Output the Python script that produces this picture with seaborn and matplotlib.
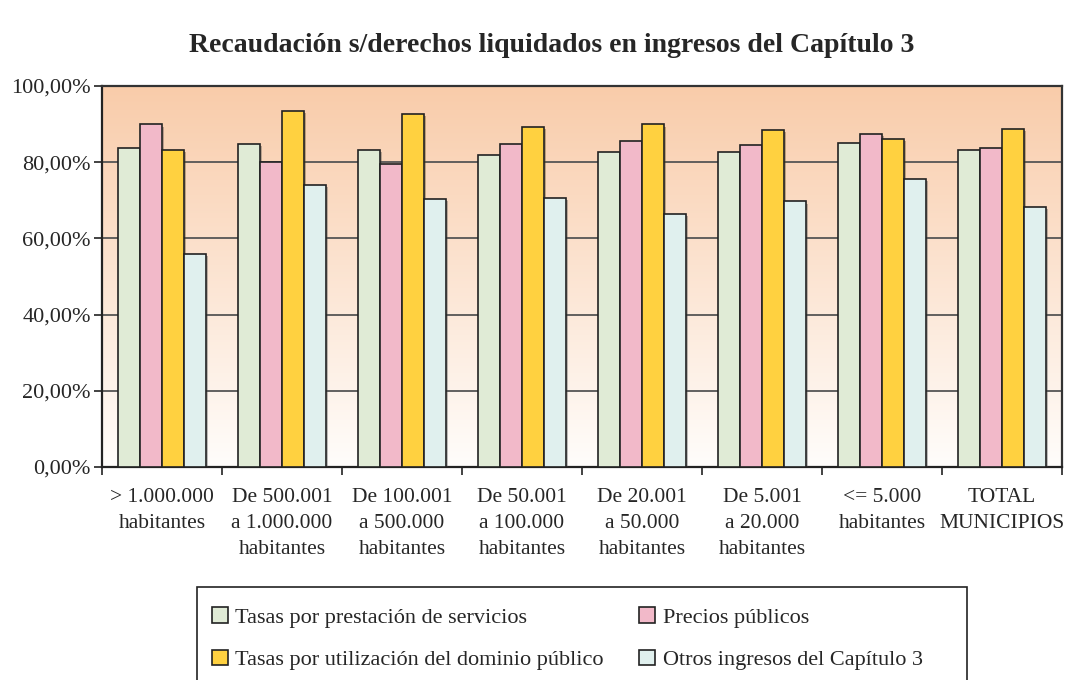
import numpy as np
import pandas as pd
import matplotlib
matplotlib.use('Agg')
import matplotlib.pyplot as plt
import matplotlib.patheffects as pe
from matplotlib.colors import LinearSegmentedColormap
from matplotlib.patches import Rectangle
from matplotlib.ticker import FixedLocator, FuncFormatter
import seaborn as sns

# ---- data ----
categories = [
    "> 1.000.000\nhabitantes",
    "De 500.001\na 1.000.000\nhabitantes",
    "De 100.001\na 500.000\nhabitantes",
    "De 50.001\na 100.000\nhabitantes",
    "De 20.001\na 50.000\nhabitantes",
    "De 5.001\na 20.000\nhabitantes",
    "<= 5.000\nhabitantes",
    "TOTAL\nMUNICIPIOS",
]
series = [
    "Tasas por prestación de servicios",
    "Precios públicos",
    "Tasas por utilización del dominio público",
    "Otros ingresos del Capítulo 3",
]
tasas_servicios = [83.7, 84.7, 83.2, 81.8, 82.8, 82.8, 85.1, 83.2]
precios_publicos = [89.9, 80.1, 79.6, 84.7, 85.6, 84.6, 87.5, 83.7]
tasas_dominio = [83.2, 93.5, 92.6, 89.3, 89.9, 88.4, 86.1, 88.8]
otros_ingresos = [55.8, 74.0, 70.3, 70.7, 66.5, 69.7, 75.5, 68.3]
colors = ["#E0EBD6", "#F2B9C9", "#FFD140", "#E0F0EE"]

df = pd.DataFrame({
    "grupo": categories * 4,
    "serie": np.repeat(series, len(categories)),
    "valor": tasas_servicios + precios_publicos + tasas_dominio + otros_ingresos,
})

sns.set_style("white")
plt.rcParams['font.family'] = ['Liberation Serif', 'DejaVu Serif']

fig = plt.figure(figsize=(10.73, 6.8), dpi=100)
ax = fig.add_axes([102 / 1073, 1 - 467 / 680, 960 / 1073, 381 / 680])

# gradient background (peach at top fading to white)
cmap = LinearSegmentedColormap.from_list("bg", ["#FFFDFB", "#F9CCAA"])
grad = np.linspace(0, 1, 256).reshape(-1, 1)
ax.imshow(grad, cmap=cmap, aspect='auto', origin='lower',
          extent=(-0.5, 7.5, 0, 100), zorder=0)

for y in [20, 40, 60, 80]:
    ax.axhline(y, color="#555555", lw=1.3, zorder=1)

sns.barplot(data=df, x="grupo", y="valor", hue="serie", hue_order=series,
            palette=colors, saturation=1, width=0.73, edgecolor="#222222",
            linewidth=1.2, ax=ax, zorder=3, legend=True)

for p in ax.patches:
    p.set_path_effects([pe.SimplePatchShadow(offset=(1.5, -1.5), alpha=0.35), pe.Normal()])

ax.set_xlim(-0.5, 7.5)
ax.set_ylim(0, 100)
ax.set_xlabel("")
ax.set_ylabel("")

ax.yaxis.set_major_locator(FixedLocator([0, 20, 40, 60, 80, 100]))
ax.yaxis.set_major_formatter(FuncFormatter(lambda v, _: f"{v:.2f}%".replace(".", ",")))
ax.tick_params(axis='y', which='major', direction='out', length=6, width=1.2,
               color="#222222", labelsize=16, pad=2, left=True)

ax.set_xticks(range(len(categories)))
ax.set_xticklabels(categories, fontsize=15.5, linespacing=1.52)
ax.tick_params(axis='x', which='major', length=0, pad=15)
ax.set_xticks(np.arange(-0.5, 8, 1), minor=True)
ax.tick_params(axis='x', which='minor', direction='out', length=6, width=1.2,
               color="#222222", bottom=True)

for side in ['left', 'bottom']:
    ax.spines[side].set_color("#222222")
    ax.spines[side].set_linewidth(1.6)
for side in ['top', 'right']:
    ax.spines[side].set_visible(True)
    ax.spines[side].set_color("#333333")
    ax.spines[side].set_linewidth(1.6)

fig.text(552 / 1073, 1 - 45 / 680,
         "Recaudación s/derechos liquidados en ingresos del Capítulo 3",
         fontsize=20, fontweight='bold', ha='center', va='center')

# legend box (runs past the bottom edge, as in the reference)
fig.patches.append(Rectangle((197 / 1073, -0.05), 770 / 1073, 0.05 + 1 - 587 / 680,
                             transform=fig.transFigure, fill=False,
                             edgecolor="#222222", linewidth=1.2))

handles, labels = ax.get_legend_handles_labels()
ax.get_legend().remove()
order = [0, 2, 1, 3]  # legend fills column-wise; reference reads row-wise
leg = fig.legend([handles[i] for i in order], [labels[i] for i in order],
                 ncol=2, loc='upper left',
                 bbox_to_anchor=(212 / 1073, 1 - 607 / 680),
                 frameon=False, fontsize=16,
                 handlelength=0.7, handleheight=0.7, handletextpad=0.35,
                 columnspacing=1.6, labelspacing=1.0, borderpad=0,
                 borderaxespad=0)
for h in leg.legend_handles:
    h.set_path_effects([])
    h.set_edgecolor("#222222")

fig.savefig("out.png", dpi=100)
